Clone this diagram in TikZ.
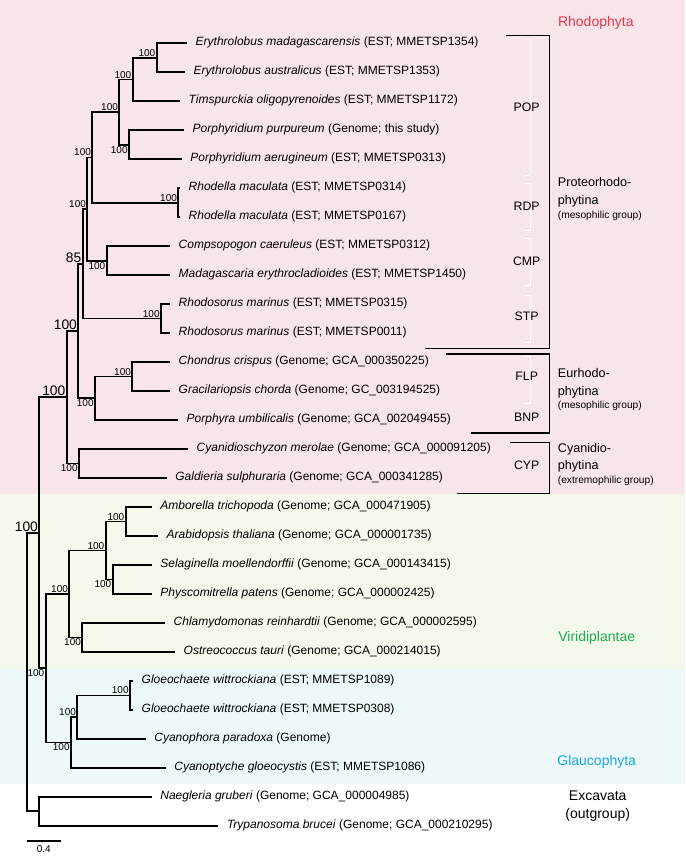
\documentclass[tikz,border=0pt]{standalone}
\usepackage{fontspec}
\setmainfont{Liberation Sans}
\usetikzlibrary{calc}
\definecolor{bgpink}{RGB}{247,229,231}
\definecolor{bggreen}{RGB}{243,250,236}
\definecolor{bgblue}{RGB}{236,248,250}
\definecolor{rhodored}{RGB}{232,56,77}
\definecolor{viridigreen}{RGB}{30,170,80}
\definecolor{glaucoblue}{RGB}{30,170,220}
\begin{document}
\begin{tikzpicture}[x=1pt,y=-1pt,
  br/.style={line width=1.7pt, line join=miter},
  bkt/.style={line width=1.6pt, line join=miter},
  wbkt/.style={white, line width=1pt},
  leaf/.style={anchor=mid west, inner sep=0pt, xshift=8.5pt, font=\fontsize{12}{14}\selectfont},
  bs/.style={inner sep=1.2pt, font=\fontsize{10}{11}\selectfont},
  bsl/.style={inner sep=1.2pt, font=\fontsize{13.8}{15}\selectfont},
  clade/.style={inner sep=0pt, anchor=mid, font=\fontsize{12.3}{13}\selectfont},
  grp/.style={inner sep=0pt, anchor=mid west, font=\fontsize{12.6}{14}\selectfont},
  grps/.style={inner sep=0pt, anchor=mid west, font=\fontsize{10.2}{11}\selectfont},
  big/.style={inner sep=0pt, anchor=mid, font=\fontsize{14}{15}\selectfont}]
\useasboundingbox (0,0) rectangle (685,856);
% backgrounds
\fill[bgpink] (0,0) rectangle (685,494);
\fill[bggreen] (0,494) rectangle (685,669);
\fill[bgblue] (0,669) rectangle (685,784);
% internal nodes
\coordinate (root) at (26.7,672);
\coordinate (nY) at (39.3,532.75);
\coordinate (nZ) at (39.3,811.3);
\coordinate (nO) at (66.7,397.3);
\coordinate (nM) at (78.3,331.05);
\coordinate (nN) at (79,463.5);
\coordinate (nJ) at (82.7,263.8);
\coordinate (nL) at (95,398.3);
\coordinate (nK) at (132.3,376.6);
\coordinate (nH) at (87.3,209.0);
\coordinate (nI) at (161,318.6);
\coordinate (nF) at (92.3,157.4);
\coordinate (nG) at (106.7,260.65);
\coordinate (nD) at (119.3,112.1);
\coordinate (nE) at (178.3,202.7);
\coordinate (nB) at (132.7,79.55);
\coordinate (nC) at (129,144.7);
\coordinate (nA) at (156.7,57.8);
\coordinate (nX) at (45.7,668.2);
\coordinate (nT) at (69.3,593.95);
\coordinate (nW) at (71,742.45);
\coordinate (nR) at (105.7,550.5);
\coordinate (nS) at (82.3,637.4);
\coordinate (nP) at (125.7,521.5);
\coordinate (nQ) at (112.7,579.45);
\coordinate (nV) at (77.3,717.1);
\coordinate (nU) at (130,695.4);
% tips
\coordinate (t1) at (187,43.3);
\coordinate (t2) at (185,72.3);
\coordinate (t3) at (180,101.3);
\coordinate (t4) at (184,130.2);
\coordinate (t5) at (181.7,159.2);
\coordinate (t6) at (180,188.2);
\coordinate (t7) at (180,217.2);
\coordinate (t8) at (170,246.2);
\coordinate (t9) at (170,275.1);
\coordinate (t10) at (170,304.1);
\coordinate (t11) at (170,333.1);
\coordinate (t12) at (170,362.1);
\coordinate (t13) at (170,391.1);
\coordinate (t14) at (178,420.0);
\coordinate (t15) at (188,449.0);
\coordinate (t16) at (166.7,478.0);
\coordinate (t17) at (151.7,507.0);
\coordinate (t18) at (158,536.0);
\coordinate (t19) at (151.7,565.0);
\coordinate (t20) at (151.7,593.9);
\coordinate (t21) at (165,622.9);
\coordinate (t22) at (175,651.9);
\coordinate (t23) at (133,680.9);
\coordinate (t24) at (133,709.9);
\coordinate (t25) at (145.7,738.8);
\coordinate (t26) at (165.7,767.8);
\coordinate (t27) at (151.7,796.8);
\coordinate (t28) at (218.3,825.8);
% branches
\draw[br] (root) |- (nY) (root) |- (nZ);
\draw[br] (nY) |- (nO) (nY) |- (nX);
\draw[br] (nO) |- (nM) (nO) |- (nN);
\draw[br] (nM) |- (nJ) (nM) |- (nL);
\draw[br] (nJ) |- (nH) (nJ) |- (nI);
\draw[br] (nH) |- (nF) (nH) |- (nG);
\draw[br] (nF) |- (nD) (nF) |- (nE);
\draw[br] (nD) |- (nB) (nD) |- (nC);
\draw[br] (nB) |- (nA) (nB) |- (t3);
\draw[br] (nA) |- (t1) (nA) |- (t2);
\draw[br] (nC) |- (t4) (nC) |- (t5);
\draw[br] (nE) |- (t6) (nE) |- (t7);
\draw[br] (nG) |- (t8) (nG) |- (t9);
\draw[br] (nI) |- (t10) (nI) |- (t11);
\draw[br] (nL) |- (nK) (nL) |- (t14);
\draw[br] (nK) |- (t12) (nK) |- (t13);
\draw[br] (nN) |- (t15) (nN) |- (t16);
\draw[br] (nX) |- (nT) (nX) |- (nW);
\draw[br] (nT) |- (nR) (nT) |- (nS);
\draw[br] (nR) |- (nP) (nR) |- (nQ);
\draw[br] (nP) |- (t17) (nP) |- (t18);
\draw[br] (nQ) |- (t19) (nQ) |- (t20);
\draw[br] (nS) |- (t21) (nS) |- (t22);
\draw[br] (nW) |- (nV) (nW) |- (t26);
\draw[br] (nV) |- (nU) (nV) |- (t25);
\draw[br] (nU) |- (t23) (nU) |- (t24);
\draw[br] (nZ) |- (t27) (nZ) |- (t28);
% leaf labels
\node[leaf] (l1) at (t1) {\textit{Erythrolobus madagascarensis} (EST; MMETSP1354)};
\node[leaf] (l2) at (t2) {\textit{Erythrolobus australicus} (EST; MMETSP1353)};
\node[leaf] (l3) at (t3) {\textit{Timspurckia oligopyrenoides} (EST; MMETSP1172)};
\node[leaf] (l4) at (t4) {\textit{Porphyridium purpureum} (Genome; this study)};
\node[leaf] (l5) at (t5) {\textit{Porphyridium aerugineum} (EST; MMETSP0313)};
\node[leaf] (l6) at (t6) {\textit{Rhodella maculata} (EST; MMETSP0314)};
\node[leaf] (l7) at (t7) {\textit{Rhodella maculata} (EST; MMETSP0167)};
\node[leaf] (l8) at (t8) {\textit{Compsopogon caeruleus} (EST; MMETSP0312)};
\node[leaf] (l9) at (t9) {\textit{Madagascaria erythrocladioides} (EST; MMETSP1450)};
\node[leaf] (l10) at (t10) {\textit{Rhodosorus marinus} (EST; MMETSP0315)};
\node[leaf] (l11) at (t11) {\textit{Rhodosorus marinus} (EST; MMETSP0011)};
\node[leaf] (l12) at (t12) {\textit{Chondrus crispus} (Genome; GCA\_000350225)};
\node[leaf] (l13) at (t13) {\textit{Gracilariopsis chorda} (Genome; GC\_003194525)};
\node[leaf] (l14) at (t14) {\textit{Porphyra umbilicalis} (Genome; GCA\_002049455)};
\node[leaf] (l15) at (t15) {\textit{Cyanidioschyzon merolae} (Genome; GCA\_000091205)};
\node[leaf] (l16) at (t16) {\textit{Galdieria sulphuraria} (Genome; GCA\_000341285)};
\node[leaf] (l17) at (t17) {\textit{Amborella trichopoda} (Genome; GCA\_000471905)};
\node[leaf] (l18) at (t18) {\textit{Arabidopsis thaliana} (Genome; GCA\_000001735)};
\node[leaf] (l19) at (t19) {\textit{Selaginella moellendorffii} (Genome; GCA\_000143415)};
\node[leaf] (l20) at (t20) {\textit{Physcomitrella patens} (Genome; GCA\_000002425)};
\node[leaf] (l21) at (t21) {\textit{Chlamydomonas reinhardtii} (Genome; GCA\_000002595)};
\node[leaf] (l22) at (t22) {\textit{Ostreococcus tauri} (Genome; GCA\_000214015)};
\node[leaf] (l23) at (t23) {\textit{Gloeochaete wittrockiana} (EST; MMETSP1089)};
\node[leaf] (l24) at (t24) {\textit{Gloeochaete wittrockiana} (EST; MMETSP0308)};
\node[leaf] (l25) at (t25) {\textit{Cyanophora paradoxa} (Genome)};
\node[leaf] (l26) at (t26) {\textit{Cyanoptyche gloeocystis} (EST; MMETSP1086)};
\node[leaf] (l27) at (t27) {\textit{Naegleria gruberi} (Genome; GCA\_000004985)};
\node[leaf] (l28) at (t28) {\textit{Trypanosoma brucei} (Genome; GCA\_000210295)};
% bootstrap values
\node[bs, anchor=south east] (bA) at (nA) {100};
\node[bs, anchor=south east] (bB) at (nB) {100};
\node[bs, anchor=south east] (bD) at (nD) {100};
\node[bs, anchor=north east] (bC) at (nC) {100};
\node[bs, anchor=south east] (bF) at (nF) {100};
\node[bs, anchor=south east] (bE) at (nE) {100};
\node[bs, anchor=south east] (bH) at (nH) {100};
\node[bs, anchor=north east] (bG) at (nG) {100};
\node[bsl, anchor=south east] (bJ) at (nJ) {85};
\node[bs, anchor=south east] (bI) at (nI) {100};
\node[bsl, anchor=south east] (bM) at (nM) {100};
\node[bs, anchor=south east] (bK) at (nK) {100};
\node[bs, anchor=north east] (bL) at (nL) {100};
\node[bsl, anchor=south east] (bO) at (nO) {100};
\node[bs, anchor=north east] (bN) at (nN) {100};
\node[bsl, anchor=south east] (bY) at (nY) {100};
\node[bs, anchor=south east] (bP) at (nP) {100};
\node[bs, anchor=south east] (bR) at (nR) {100};
\node[bs, anchor=north east] (bQ) at (nQ) {100};
\node[bs, anchor=south east] (bT) at (nT) {100};
\node[bs, anchor=north east] (bS) at (nS) {100};
\node[bs, anchor=north east] (bX) at (nX) {100};
\node[bs, anchor=south east] (bU) at (nU) {100};
\node[bs, anchor=south east] (bV) at (nV) {100};
\node[bs, anchor=north east] (bW) at (nW) {100};
% right brackets
\draw[bkt] (506,35.7) -- (549.5,35.7) -- (549.5,348.5) -- (425,348.5);
\draw[bkt] (445.7,354) -- (549.5,354) -- (549.5,432.7) -- (471,432.7);
\draw[bkt] (510,442.3) -- (549.5,442.3) -- (549.5,493.3) -- (457.3,493.3);
% white sub-brackets
\draw[wbkt] (525,39.3) -- (530,39.3) -- (530,175) -- (525,175);
\draw[wbkt] (525,183.3) -- (530,183.3) -- (530,230.7) -- (525,230.7);
\draw[wbkt] (525,238.3) -- (530,238.3) -- (530,285) -- (525,285);
\draw[wbkt] (525,295) -- (530,295) -- (530,342.7) -- (525,342.7);
\draw[wbkt] (525,356.7) -- (530,356.7) -- (530,403.3) -- (525,403.3);
% clade abbreviations
\node[clade] (POP) at (526.7,109.3) {POP};
\node[clade] (RDP) at (526.7,208.3) {RDP};
\node[clade] (CMP) at (526.7,263.3) {CMP};
\node[clade] (STP) at (526.7,317.7) {STP};
\node[clade] (FLP) at (526.7,378.3) {FLP};
\node[clade] (BNP) at (526.7,419.3) {BNP};
\node[clade] (CYP) at (526.7,466.7) {CYP};
% group names
\node[grp] (g1a) at (557.7,184) {Proteorhodo-};
\node[grp] (g1b) at (557.7,201.7) {phytina};
\node[grps] (g1c) at (557.7,216) {(mesophilic group)};
\node[grp] (g2a) at (557.7,375) {Eurhodo-};
\node[grp] (g2b) at (557.7,392.7) {phytina};
\node[grps] (g2c) at (557.7,406) {(mesophilic group)};
\node[grp] (g3a) at (557.7,450) {Cyanidio-};
\node[grp] (g3b) at (557.7,467.3) {phytina};
\node[grps] (g3c) at (557.7,480.7) {(extremophilic group)};
\node[big, text=rhodored] (rho) at (595.8,24) {Rhodophyta};
\node[big, text=viridigreen] (vir) at (596.7,639.3) {Viridiplantae};
\node[big, text=glaucoblue] (gla) at (596.7,763.3) {Glaucophyta};
\node[big] (exc) at (597.7,798.3) {Excavata};
\node[big] (out) at (597.7,816) {(outgroup)};
% scale bar
\coordinate (sb1) at (26.7,841);
\coordinate (sb2) at (61,841);
\draw[line width=1.3pt] (sb1) -- (sb2);
\node[bs, anchor=north, yshift=-3pt] (sbl) at ($(sb1)!0.5!(sb2)$) {0.4};
\end{tikzpicture}
\end{document}
